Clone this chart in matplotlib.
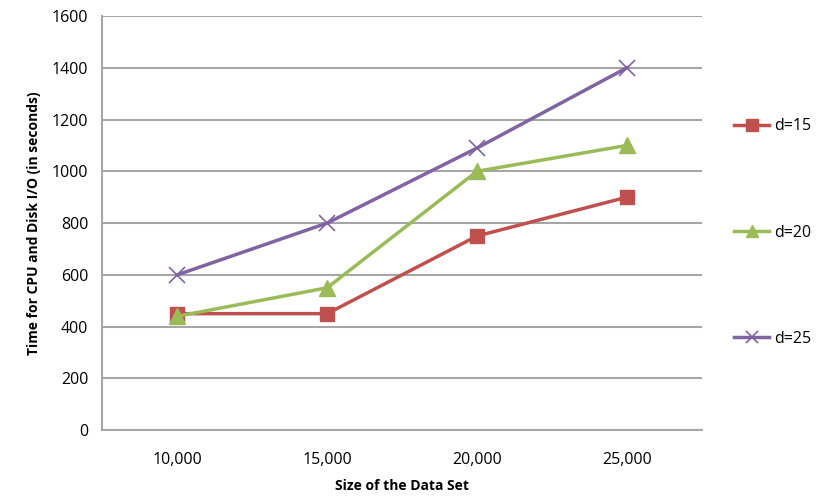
import numpy as np
import matplotlib.pyplot as plt

# dataset sizes and run times (seconds) for each d
sizes = ['10,000', '15,000', '20,000', '25,000']
d15 = [450, 450, 750, 900]
d20 = [440, 550, 1000, 1100]
d25 = [600, 800, 1090, 1400]

plt.rcParams['font.family'] = ['Open Sans', 'DejaVu Sans']

f, ax = plt.subplots(figsize=(8.19, 4.99), dpi=100)
f.subplots_adjust(left=0.125, right=0.857, top=0.968, bottom=0.138)

x = np.arange(len(sizes))
ax.plot(x, d15, '-s', color='#C0504D', lw=2.5, ms=10, label='d=15')
ax.plot(x, d20, '-^', color='#9BBB59', lw=2.5, ms=11, label='d=20')
ax.plot(x, d25, '-x', color='#8064A2', lw=2.5, ms=11, mew=1.2, label='d=25')

ax.set_xlim(-0.5, len(sizes) - 0.5)
ax.set_ylim(0, 1600)
ax.set_yticks(np.arange(0, 1601, 200))
ax.set_xticks(x)
ax.set_xticklabels(sizes)
ax.yaxis.grid(True, color='#A6A6A6', lw=1.5)
ax.set_axisbelow(True)
ax.tick_params(length=0, labelsize=11.5, pad=10)
ax.tick_params(axis='x', pad=16)
for s in ['top', 'right']:
    ax.spines[s].set_visible(False)
for s in ['left', 'bottom']:
    ax.spines[s].set_color('#A6A6A6')
    ax.spines[s].set_linewidth(1.5)

ax.set_xlabel('Size of the Data Set', fontsize=10, fontweight='bold', labelpad=8)
ax.set_ylabel('Time for CPU and Disk I/O (in seconds)', fontsize=10, fontweight='bold', labelpad=8)

ax.legend(frameon=False, loc='center left', bbox_to_anchor=(1.03, 0.477),
          fontsize=11.5, labelspacing=5.65, handlelength=2.2, handletextpad=0.3,
          markerscale=0.8)

plt.savefig('out.png', dpi=100)
